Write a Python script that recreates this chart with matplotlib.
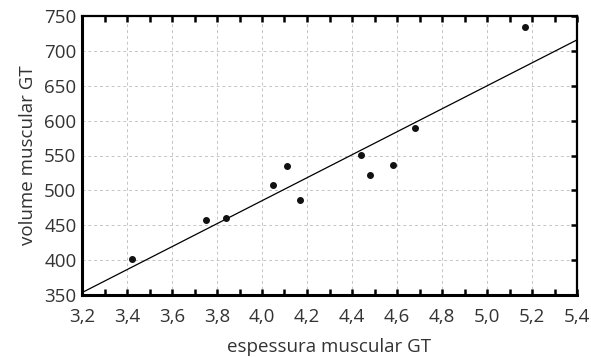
import numpy as np
import matplotlib
matplotlib.use('Agg')
import matplotlib.pyplot as plt
from matplotlib.ticker import MultipleLocator, FuncFormatter

# espessura muscular GT (cm) vs volume muscular GT
espessura = [3.42, 3.75, 3.84, 4.05, 4.11, 4.17, 4.44, 4.48, 4.58, 4.68, 5.17]
volume = [402, 457, 460, 508, 535, 486, 551, 522, 536, 589, 734]

xticks = [3.2, 3.4, 3.6, 3.8, 4.0, 4.2, 4.4, 4.6, 4.8, 5.0, 5.2, 5.4]
yticks = [350, 400, 450, 500, 550, 600, 650, 700, 750]

plt.rcParams['font.family'] = ['Open Sans', 'DejaVu Sans']
txt = '#333333'

fig = plt.figure(figsize=(5.91, 3.57), dpi=100)
ax = fig.add_axes([82/591, 1 - 295/357, 495/591, 279/357])

# linear fit
b, a = np.polyfit(espessura, volume, 1)
xl = np.array([xticks[0], xticks[-1]])
ax.plot(xl, a + b * xl, color='black', lw=0.9, zorder=3)

ax.scatter(espessura, volume, s=16, color='#111111', zorder=4)

ax.set_xlim(xticks[0], xticks[-1])
ax.set_ylim(yticks[0], yticks[-1])
ax.set_xticks(xticks)
ax.set_yticks(yticks)
ax.xaxis.set_major_formatter(FuncFormatter(lambda v, p: ('%.1f' % v).replace('.', ',')))
ax.xaxis.set_minor_locator(MultipleLocator(0.1))

ax.grid(True, which='major', color='#c4c4c4', linestyle=(0, (3, 3)), lw=0.7)
ax.set_axisbelow(True)

ax.tick_params(axis='x', which='both', direction='in', top=True, bottom=True,
               length=4, width=1.8, colors='black', labelcolor=txt, labelsize=13.5, pad=9)
ax.tick_params(axis='y', which='major', direction='in', left=False, right=True,
               length=4, width=1.8, colors='black', labelcolor=txt, labelsize=13.5, pad=4)

for side in ['left', 'bottom']:
    ax.spines[side].set_linewidth(2.2)
for side in ['top', 'right']:
    ax.spines[side].set_linewidth(1.6)

ax.set_xlabel('espessura muscular GT', fontsize=13.5, color=txt, labelpad=9)
ax.set_ylabel('volume muscular GT', fontsize=13.5, color=txt, labelpad=5)

fig.savefig('out.png', dpi=100)
